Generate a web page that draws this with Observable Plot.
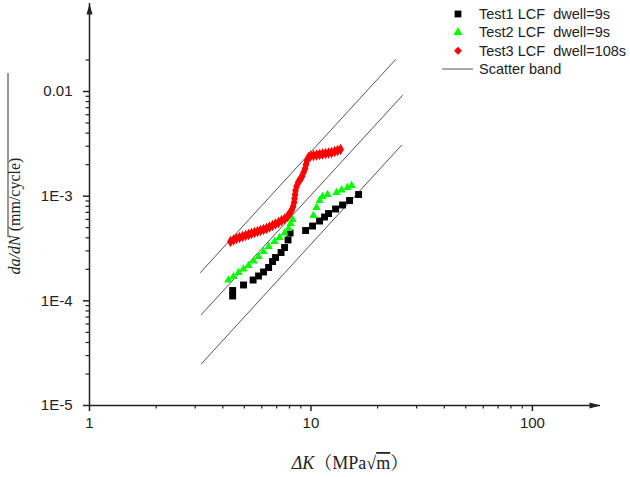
<!DOCTYPE html>
<html>
<head>
<meta charset="utf-8">
<script src="https://cdn.jsdelivr.net/npm/d3@7"></script>
<script src="https://cdn.jsdelivr.net/npm/@observablehq/plot@0.6"></script>
<style>
  body { margin: 0; background: #fff; }
  #chart { position: relative; width: 630px; height: 477px; }
</style>
</head>
<body>
<div id="chart"></div>
<script>
// Crack growth rate da/dN (mm/cycle) versus stress intensity range ΔK (MPa√m)
const test1K    = [4.43, 4.43, 4.96, 5.48, 5.80, 6.11, 6.44, 6.71, 6.92, 7.33, 7.60, 7.88, 8.05,
                   9.46, 10.17, 10.94, 11.52, 12.01, 12.92, 13.89, 14.94, 16.41];
const test1Rate = [1.255e-4, 1.112e-4, 1.417e-4, 1.581e-4, 1.727e-4, 1.886e-4, 2.082e-4, 2.375e-4,
                   2.594e-4, 2.895e-4, 3.231e-4, 3.813e-4, 4.447e-4, 4.697e-4, 5.186e-4, 5.788e-4,
                   6.322e-4, 6.827e-4, 7.541e-4, 8.233e-4, 9.092e-4, 1.037e-3];

const test2K    = [4.24, 4.47, 4.71, 4.96, 5.23, 5.51, 5.80, 6.11, 6.44, 6.85, 7.22, 7.60, 7.93,
                   8.09, 8.26, 10.27, 10.60, 10.94, 11.28, 11.89, 13.05, 13.75, 14.63, 15.26];
const test2Rate = [1.581e-4, 1.708e-4, 1.865e-4, 2.014e-4, 2.176e-4, 2.402e-4, 2.651e-4, 2.960e-4,
                   3.304e-4, 3.689e-4, 4.029e-4, 4.447e-4, 4.908e-4, 5.481e-4, 5.984e-4, 6.533e-4,
                   7.795e-4, 9.092e-4, 9.926e-4, 1.037e-3, 1.084e-3, 1.146e-3, 1.210e-3, 1.265e-3];

const test3K    = [4.33, 4.47, 4.61, 4.76, 4.91, 5.07, 5.23, 5.39, 5.56, 5.74, 5.92, 6.11, 6.30,
                   6.50, 6.71, 6.92, 7.14, 7.37, 7.60, 7.84, 8.01, 8.18, 8.31, 8.39, 8.43, 8.48,
                   8.52, 8.61, 8.75, 8.93, 9.12, 9.26, 9.41, 9.50, 9.60, 9.75, 9.96, 10.27, 10.60,
                   10.94, 11.28, 11.64, 12.01, 12.39, 12.79, 13.19, 13.61];
const test3Rate = [3.69e-4, 3.81e-4, 3.94e-4, 4.03e-4, 4.12e-4, 4.21e-4, 4.30e-4, 4.40e-4, 4.50e-4,
                   4.60e-4, 4.70e-4, 4.80e-4, 4.91e-4, 5.07e-4, 5.24e-4, 5.42e-4, 5.60e-4, 5.85e-4,
                   6.05e-4, 6.39e-4, 6.83e-4, 7.30e-4, 7.97e-4, 8.70e-4, 9.50e-4, 1.037e-3, 1.133e-3,
                   1.237e-3, 1.351e-3, 1.443e-3, 1.541e-3, 1.683e-3, 1.838e-3, 2.007e-3, 2.191e-3,
                   2.341e-3, 2.419e-3, 2.446e-3, 2.473e-3, 2.500e-3, 2.528e-3, 2.556e-3, 2.584e-3,
                   2.613e-3, 2.671e-3, 2.731e-3, 2.792e-3];

// Scatter band: three parallel straight lines (upper, middle, lower)
const bandStartK    = [3.17, 3.20, 3.20];
const bandEndK      = [24.1, 25.9, 25.6];
const bandStartRate = [1.865e-4, 7.40e-5, 2.50e-5];
const bandEndRate   = [2.02e-2, 9.16e-3, 3.05e-3];

const seriesNames = ["Test1 LCF  dwell=9s", "Test2 LCF  dwell=9s", "Test3 LCF  dwell=108s", "Scatter band"];

const xMajorTicks = [1, 10, 100];
const xMajorLabels = ["1", "10", "100"];
const xMinorTicks = [2, 3, 4, 5, 6, 7, 8, 9, 20, 30, 40, 50, 60, 70, 80, 90];
const yMajorTicks = [1e-5, 1e-4, 1e-3, 1e-2];
const yMajorLabels = ["1E-5", "1E-4", "1E-3", "0.01"];
const yMinorTicks = [2e-5, 3e-5, 4e-5, 5e-5, 6e-5, 7e-5, 8e-5, 9e-5,
                     2e-4, 3e-4, 4e-4, 5e-4, 6e-4, 7e-4, 8e-4, 9e-4,
                     2e-3, 3e-3, 4e-3, 5e-3, 6e-3, 7e-3, 8e-3, 9e-3, 2e-2];

const xDomain = [1, 203];
const yDomain = [1e-5, 0.0693];

const zip = (ks, rs) => ks.map((k, i) => ({k, rate: rs[i]}));
const test1 = zip(test1K, test1Rate);
const test2 = zip(test2K, test2Rate);
const test3 = zip(test3K, test3Rate);
const band = bandStartK.flatMap((k, i) => [
  {band: i, k, rate: bandStartRate[i]},
  {band: i, k: bandEndK[i], rate: bandEndRate[i]}
]);

// Narrow filled arrowhead, tip at the origin, pointing up
const arrowHead = {
  draw(context) {
    context.moveTo(0, 0);
    context.lineTo(-3, 11);
    context.lineTo(3, 11);
    context.closePath();
  }
};

const axisColor = "#222";
const xLab = new Map(xMajorTicks.map((t, i) => [t, xMajorLabels[i]]));
const yLab = new Map(yMajorTicks.map((t, i) => [t, yMajorLabels[i]]));

const chart = Plot.plot({
  width: 630,
  height: 477,
  marginLeft: 89,
  marginRight: 30,
  marginTop: 3,
  marginBottom: 72,
  x: {type: "log", domain: xDomain, label: null},
  y: {type: "log", domain: yDomain, label: null},
  style: {
    fontFamily: "'Liberation Sans', Arial, sans-serif",
    fontSize: "15px",
    color: axisColor,
    background: "#fff",
    overflow: "visible"
  },
  marks: [
    Plot.line(band, {x: "k", y: "rate", z: "band", stroke: "#555", strokeWidth: 1}),
    Plot.dot(test1, {x: "k", y: "rate", symbol: "square", r: 3.9, fill: "#000"}),
    Plot.dot(test2, {x: "k", y: "rate", symbol: "triangle", r: 3.1, fill: "#00ff00"}),
    Plot.dot(test3, {x: "k", y: "rate", symbol: "diamond", r: 3.5, fill: "#ff0000"}),
    // axis lines
    Plot.ruleY([yDomain[0]], {stroke: axisColor, strokeWidth: 1.5}),
    Plot.ruleX([xDomain[0]], {stroke: axisColor, strokeWidth: 1.5}),
    // ticks
    Plot.axisX(xMajorTicks, {tickSize: 6, tickPadding: 6, strokeWidth: 1.5, tickFormat: d => xLab.get(d), fill: "#222"}),
    Plot.axisX(xMinorTicks, {tickSize: 3.5, strokeWidth: 1.2, tickFormat: () => ""}),
    Plot.axisY(yMajorTicks, {tickSize: 6, tickPadding: 11, strokeWidth: 1.5, tickFormat: d => yLab.get(d), fill: "#222"}),
    Plot.axisY(yMinorTicks, {tickSize: 3.5, strokeWidth: 1.2, tickFormat: () => ""}),
    // arrowheads at the axis ends
    Plot.dot([{k: xDomain[1], rate: yDomain[0]}], {x: "k", y: "rate", symbol: arrowHead, rotate: 90, fill: axisColor, stroke: "none"}),
    Plot.dot([{k: xDomain[0], rate: yDomain[1]}], {x: "k", y: "rate", symbol: arrowHead, fill: axisColor, stroke: "none"})
  ]
});

document.getElementById("chart").appendChild(chart);

const svg = d3.select(chart);
const serif = "'Liberation Serif', 'Times New Roman', 'Noto Serif CJK SC', serif";

// x-axis title: ΔK（MPa√m）
const xt = svg.append("text")
  .attr("x", 350).attr("y", 469)
  .attr("text-anchor", "middle")
  .style("font-family", serif)
  .style("font-size", "18px")
  .attr("fill", "#222");
xt.append("tspan").style("font-style", "italic").text("ΔK");
xt.append("tspan").text("（MPa√");
xt.append("tspan").style("text-decoration", "overline").text("m");
xt.append("tspan").text("）");

// y-axis title: da/dN (mm/cycle)
const yt = svg.append("text")
  .attr("transform", "translate(20,216) rotate(-90)")
  .attr("text-anchor", "middle")
  .style("font-family", serif)
  .style("font-size", "16px")
  .attr("fill", "#222");
yt.append("tspan").style("font-style", "italic").text("da/dN");
yt.append("tspan").text(" (mm/cycle)");
svg.append("line")
  .attr("x1", 8).attr("x2", 8).attr("y1", 73).attr("y2", 237)
  .attr("stroke", "#333").attr("stroke-width", 1);

// legend
const legend = svg.append("g")
  .attr("text-anchor", "start")
  .style("font-family", "'Liberation Sans', Arial, sans-serif")
  .style("font-size", "14.5px");
const rows = [
  {type: d3.symbolSquare, size: 46, fill: "#000"},
  {type: d3.symbolTriangle, size: 36, fill: "#00ff00"},
  {type: d3.symbolDiamond2, size: 40, fill: "#ff0000"},
  null
];
const rowY = [14, 32.3, 50.7, 69];
rows.forEach((r, i) => {
  if (r) {
    legend.append("path")
      .attr("d", d3.symbol(r.type, r.size)())
      .attr("transform", `translate(458,${rowY[i]})`)
      .attr("fill", r.fill);
  } else {
    legend.append("line")
      .attr("x1", 442).attr("x2", 473)
      .attr("y1", rowY[i]).attr("y2", rowY[i])
      .attr("stroke", "#555").attr("stroke-width", 1);
  }
  legend.append("text")
    .attr("x", 479).attr("y", rowY[i] + 5)
    .attr("text-anchor", "start")
    .attr("fill", "#222")
    .style("white-space", "pre")
    .text(seriesNames[i]);
});
</script>
</body>
</html>
